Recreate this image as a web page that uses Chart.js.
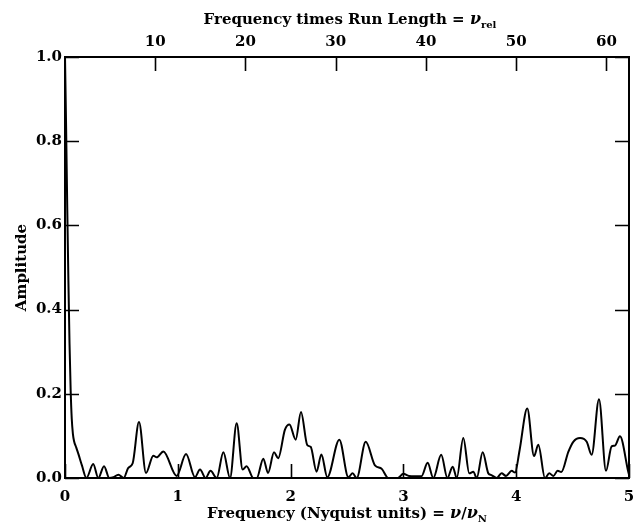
<!DOCTYPE html>
<html>
<head>
<meta charset="utf-8">
<script src="https://cdn.jsdelivr.net/npm/chart.js@4/dist/chart.umd.min.js"></script>
<style>
  html, body { margin: 0; padding: 0; background: #fff; }
  canvas { display: block; }
</style>
</head>
<body>
<canvas id="c" width="641" height="524"></canvas>
<script>
// Frequency in Nyquist units
const freq = [
  0, 0.01, 0.02, 0.03, 0.04, 0.05, 0.06, 0.07, 0.08, 0.10, 0.12, 0.15, 0.19,
  0.25, 0.295, 0.346, 0.393, 0.43, 0.473, 0.52, 0.561, 0.60, 0.656, 0.718,
  0.783, 0.813, 0.872, 0.99, 1.073, 1.152, 1.197, 1.247, 1.29, 1.345, 1.404,
  1.463, 1.522, 1.575, 1.61, 1.67, 1.70, 1.758, 1.80, 1.853, 1.89, 1.95, 1.99,
  2.045, 2.092, 2.148, 2.178, 2.23, 2.273, 2.325, 2.432, 2.512, 2.55, 2.586,
  2.666, 2.748, 2.807, 2.866, 2.95, 3.0, 3.05, 3.16, 3.215, 3.265, 3.335, 3.39,
  3.437, 3.473, 3.531, 3.584, 3.62, 3.65, 3.703, 3.753, 3.78, 3.827, 3.87, 3.91,
  3.96, 3.99, 4.03, 4.098, 4.158, 4.196, 4.255, 4.293, 4.33, 4.367, 4.40, 4.462,
  4.506, 4.566, 4.625, 4.669, 4.734, 4.796, 4.846, 4.876, 4.92, 4.994, 5.0
];
const amp = [
  1.0, 0.83, 0.64, 0.47, 0.32, 0.21, 0.14, 0.105, 0.088, 0.072, 0.056, 0.03, 0.0,
  0.033, 0.0, 0.028, 0.0, 0.002, 0.008, 0.0, 0.024, 0.035, 0.133, 0.012,
  0.053, 0.049, 0.063, 0.005, 0.057, 0.002, 0.02, 0.0, 0.017, 0.0, 0.061,
  0.0, 0.13, 0.02, 0.028, 0.0, 0.0, 0.046, 0.012, 0.061, 0.047, 0.115, 0.127,
  0.091, 0.157, 0.078, 0.074, 0.015, 0.056, 0.002, 0.091, 0.002, 0.011, 0.0,
  0.086, 0.03, 0.022, 0.0, 0.0, 0.01, 0.005, 0.004, 0.036, 0.0, 0.055, 0.0,
  0.027, 0.0, 0.095, 0.011, 0.015, 0.0, 0.061, 0.011, 0.007, 0.0, 0.011, 0.005,
  0.017, 0.013, 0.066, 0.165, 0.052, 0.079, 0.0, 0.011, 0.005, 0.017, 0.014, 0.062,
  0.086, 0.095, 0.086, 0.055, 0.187, 0.017, 0.075, 0.077, 0.099, 0.014, 0.008
];

const bottomTicks = [0, 1, 2, 3, 4, 5];
const topTicks = [10, 20, 30, 40, 50, 60];
const yTicks = [0, 0.2, 0.4, 0.6, 0.8, 1.0];
const RUN_LENGTH = 12.5; // top axis = freq * 12.5

const FONT = "DejaVu Serif";
const tickFont = { family: FONT, size: 15, weight: "bold" };

// inward ticks, frame and the titles with greek/subscripts
const framePlugin = {
  id: "frame",
  afterDraw(chart) {
    const { ctx, chartArea: a, scales } = chart;
    const len = 14;
    ctx.save();
    ctx.strokeStyle = "#000";
    ctx.lineWidth = 2;
    ctx.strokeRect(a.left, a.top, a.right - a.left, a.bottom - a.top);
    ctx.lineWidth = 1.6;
    ctx.beginPath();
    scales.x.ticks.forEach((t) => {
      const px = Math.round(scales.x.getPixelForValue(t.value)) + 0.5;
      ctx.moveTo(px, a.bottom); ctx.lineTo(px, a.bottom - len);
    });
    scales.x2.ticks.forEach((t) => {
      const px = Math.round(scales.x2.getPixelForValue(t.value)) + 0.5;
      ctx.moveTo(px, a.top); ctx.lineTo(px, a.top + len);
    });
    scales.y.ticks.forEach((t) => {
      const py = Math.round(scales.y.getPixelForValue(t.value)) + 0.5;
      ctx.moveTo(a.left, py); ctx.lineTo(a.left + len, py);
      ctx.moveTo(a.right, py); ctx.lineTo(a.right - len, py);
    });
    ctx.stroke();

    ctx.fillStyle = "#000";
    ctx.textBaseline = "alphabetic";
    const main = "bold 15px '" + FONT + "'";
    const greek = "italic bold 16px '" + FONT + "'";
    const sub = "bold 10px '" + FONT + "'";
    const drawParts = (parts, cx, by) => {
      let w = 0;
      parts.forEach((p) => { ctx.font = p.f; w += ctx.measureText(p.t).width; });
      let x = cx - w / 2;
      parts.forEach((p) => {
        ctx.font = p.f;
        ctx.fillText(p.t, x, by + (p.dy || 0));
        x += ctx.measureText(p.t).width;
      });
    };
    drawParts([
      { t: "Frequency times Run Length = ", f: main },
      { t: "ν", f: greek },
      { t: "rel", f: sub, dy: 4 }
    ], 350, 24);
    drawParts([
      { t: "Frequency (Nyquist units) = ", f: main },
      { t: "ν", f: greek },
      { t: "/", f: main },
      { t: "ν", f: greek },
      { t: "N", f: sub, dy: 4 }
    ], 347, 518);

    ctx.translate(26, (a.top + a.bottom) / 2);
    ctx.rotate(-Math.PI / 2);
    ctx.font = main;
    ctx.textAlign = "center";
    ctx.fillText("Amplitude", 0, 0);
    ctx.restore();
  }
};

const noPad = (s, h) => { s.height = h; s.paddingLeft = 0; s.paddingRight = 0; };

new Chart(document.getElementById("c"), {
  type: "line",
  data: {
    datasets: [{
      data: freq.map((f, i) => ({ x: f, y: amp[i] })),
      borderColor: "#000",
      borderWidth: 2,
      pointRadius: 0,
      cubicInterpolationMode: "monotone",
      fill: false
    }]
  },
  options: {
    responsive: false,
    animation: false,
    layout: { padding: 0 },
    plugins: { legend: { display: false }, tooltip: { enabled: false } },
    scales: {
      x: {
        type: "linear", position: "bottom", min: 0, max: 5,
        afterBuildTicks: (s) => { s.ticks = bottomTicks.map((v) => ({ value: v })); },
        ticks: { font: tickFont, color: "#000", padding: 10, maxRotation: 0 },
        grid: { display: false, drawTicks: false },
        border: { display: false },
        afterFit: (s) => noPad(s, 46)
      },
      x2: {
        type: "linear", position: "top", min: 0, max: 5 * RUN_LENGTH,
        afterBuildTicks: (s) => { s.ticks = topTicks.map((v) => ({ value: v })); },
        ticks: { font: tickFont, color: "#000", padding: 6, maxRotation: 0 },
        grid: { display: false, drawTicks: false },
        border: { display: false },
        afterFit: (s) => noPad(s, 57)
      },
      y: {
        type: "linear", position: "left", min: 0, max: 1,
        afterBuildTicks: (s) => { s.ticks = yTicks.map((v) => ({ value: v })); },
        ticks: { font: tickFont, color: "#000", padding: 3, callback: (v) => v.toFixed(1) },
        grid: { display: false, drawTicks: false },
        border: { display: false },
        afterFit: (s) => { s.width = 65; s.paddingTop = 0; s.paddingBottom = 0; }
      },
      y2: {
        type: "linear", position: "right", min: 0, max: 1,
        afterBuildTicks: (s) => { s.ticks = yTicks.map((v) => ({ value: v })); },
        ticks: { display: false },
        grid: { display: false, drawTicks: false },
        border: { display: false },
        afterFit: (s) => { s.width = 12; s.paddingTop = 0; s.paddingBottom = 0; }
      }
    }
  },
  plugins: [framePlugin]
});
</script>
</body>
</html>
